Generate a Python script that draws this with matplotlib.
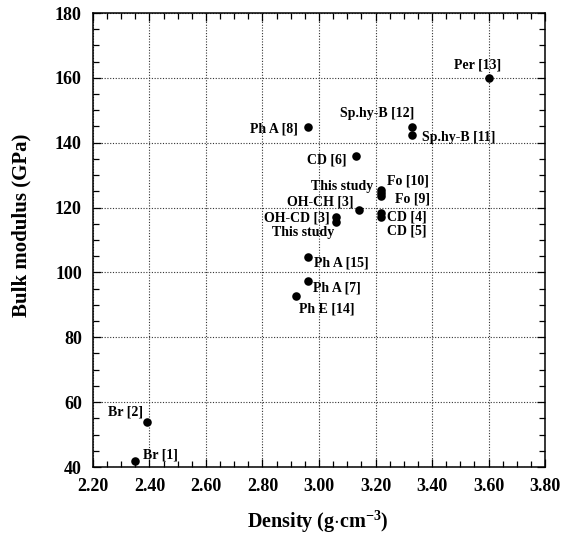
import matplotlib
matplotlib.use("Agg")
import matplotlib.pyplot as plt
from matplotlib.ticker import MultipleLocator, FormatStrFormatter

plt.rcParams['font.family'] = ['Liberation Serif', 'DejaVu Serif']
plt.rcParams['mathtext.fontset'] = 'custom'
plt.rcParams['mathtext.rm'] = 'Liberation Serif:bold'
plt.rcParams['mathtext.bf'] = 'Liberation Serif:bold'

labels = ["Per [13]", "Sp.hy-B [12]", "Sp.hy-B [11]", "Ph A [8]", "CD [6]",
          "This study", "Fo [10]", "Fo [9]", "OH-CH [3]", "CD [4]", "CD [5]",
          "OH-CD [3]", "This study", "Ph A [15]", "Ph A [7]", "Ph E [14]",
          "Br [2]", "Br [1]"]
density = [3.60, 3.33, 3.33, 2.96, 3.13,
           3.22, 3.22, 3.22, 3.14, 3.22, 3.22,
           3.06, 3.06, 2.96, 2.96, 2.92,
           2.39, 2.35]
bulk = [160.0, 144.8, 142.5, 144.8, 136.0,
        124.5, 125.3, 123.5, 119.3, 118.3, 117.0,
        117.1, 115.7, 104.9, 97.4, 92.8,
        54.0, 42.0]

# label offsets in pixels (dx, dy) and horizontal alignment
offsets = [(-11, 13, 'center'), (2, 14, 'right'), (10, -3, 'left'), (-10, -2, 'right'),
           (-9, -4, 'right'), (-8, 6, 'right'), (6, 9, 'left'), (14, -3, 'left'),
           (-5, 8, 'right'), (6, -4, 'left'), (6, -14, 'left'),
           (-6, -1, 'right'), (-2, -11, 'right'), (6, -6, 'left'), (5, -7, 'left'),
           (3, -13, 'left'), (-4, 10, 'right'), (8, 6, 'left')]

fig = plt.figure(figsize=(5.61, 5.34), dpi=100)
ax = fig.add_axes([93/561, 1-467/534, (545-93)/561, (467-13)/534])

ax.scatter(density, bulk, s=38, color='black', zorder=3, linewidths=0)

for lab, x, y, (dx, dy, ha) in zip(labels, density, bulk, offsets):
    ax.annotate(lab, (x, y), xytext=(dx, dy), textcoords='offset pixels',
                ha=ha, va='center', fontsize=10, fontweight='bold')

ax.set_xlim(2.2, 3.8)
ax.set_ylim(40, 180)
ax.xaxis.set_major_locator(MultipleLocator(0.2))
ax.xaxis.set_minor_locator(MultipleLocator(0.05))
ax.yaxis.set_major_locator(MultipleLocator(20))
ax.yaxis.set_minor_locator(MultipleLocator(5))
ax.xaxis.set_major_formatter(FormatStrFormatter('%.2f'))
ax.yaxis.set_major_formatter(FormatStrFormatter('%d'))

ax.tick_params(which='both', direction='in', top=True, right=True, width=0.9)
ax.tick_params(which='major', length=6, labelsize=13, pad=8)
ax.tick_params(which='minor', length=4)
for t in ax.get_xticklabels() + ax.get_yticklabels():
    t.set_fontweight('bold')
for s in ax.spines.values():
    s.set_linewidth(1.1)

ax.grid(True, which='major', linestyle=(0, (1, 1.5)), color='#333333', linewidth=0.8)
ax.set_axisbelow(True)

ax.set_xlabel(r'Density (g$\cdot$cm$^{\mathbf{-3}}$)', fontsize=14.5, fontweight='bold')
ax.set_ylabel('Bulk modulus (GPa)', fontsize=15, fontweight='bold')
ax.xaxis.set_label_coords(0.498, -0.121)
ax.yaxis.set_label_coords(-0.159, 0.533)
ax.xaxis.label.set_va('center')
ax.yaxis.label.set_va('center')

fig.savefig('out.png', dpi=100)
